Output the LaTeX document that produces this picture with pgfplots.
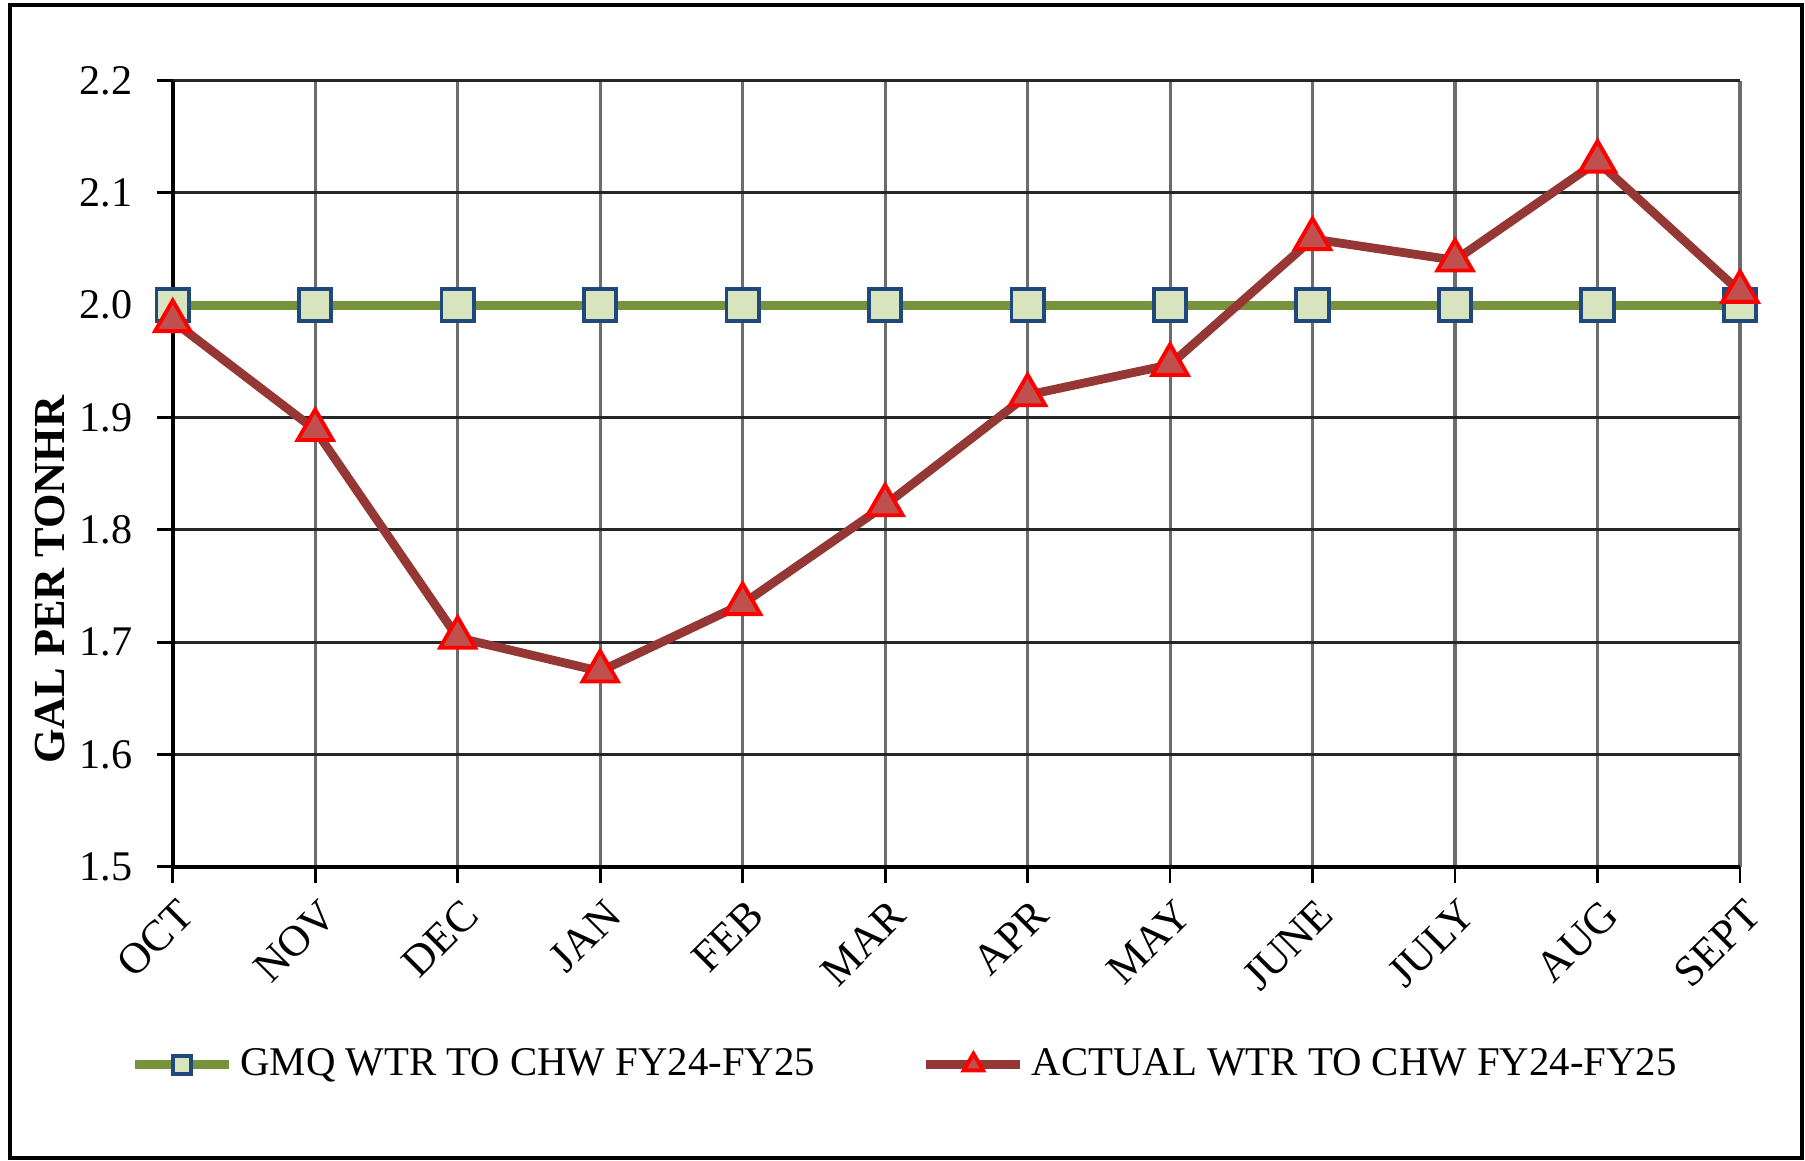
\documentclass[border=0pt]{standalone}
\usepackage{fontspec}
\setmainfont{Liberation Serif}
\usepackage{pgfplots}
\pgfplotsset{compat=1.18}

\definecolor{gmqline}{RGB}{119,147,60}
\definecolor{gmqfill}{RGB}{215,228,189}
\definecolor{gmqedge}{RGB}{31,73,125}
\definecolor{actline}{RGB}{149,55,53}
\definecolor{actfill}{RGB}{192,80,77}
\definecolor{actedge}{RGB}{255,0,0}

\begin{document}
\begin{tikzpicture}
\begin{axis}[
name=ax,
scale only axis,
width=15.67cm, height=7.86cm,
xmin=0, xmax=11,
ymin=1.5, ymax=2.2,
xtick={0,...,11},
xticklabels={OCT,NOV,DEC,JAN,FEB,MAR,APR,MAY,JUNE,JULY,AUG,SEPT},
ytick={1.5,1.6,1.7,1.8,1.9,2.0,2.1,2.2},
yticklabel style={xshift=-0.12cm, /pgf/number format/.cd,fixed,fixed zerofill,precision=1},
/pgf/number format/assume math mode=true,
tick label style={font=\fontsize{12}{14}\selectfont},
xticklabel style={font=\fontsize{12.4}{14}\selectfont, rotate=45, anchor=north east, xshift=0.04cm},
axis lines*=left,
axis line style={black, line width=1.1pt},
tick align=outside,
major tick length=0.16cm,
tick style={black, line width=0.8pt},
grid=major,
x grid style={gray!85!black, line width=0.9pt},
y grid style={black!85, line width=0.9pt},
ylabel={\bfseries GAL PER TONHR},
ylabel style={font=\fontsize{12.6}{14}\selectfont, at={(axis description cs:-0.061,0.365)}, anchor=south},
clip=false,
legend columns=2,
legend style={at={(axis description cs:0.4686,-0.252)}, anchor=center, draw=none,
  font=\fontsize{11.6}{14}\selectfont,
  /tikz/every even column/.append style={column sep=1.0cm}},
legend image code/.code={\draw[mark repeat=2,mark phase=2,#1,every mark/.append style={scale=0.55}] plot coordinates {(0cm,0cm) (0.47cm,0cm) (0.94cm,0cm)};},
]

% goal line
\addplot[color=gmqline, line width=2.5pt, mark=square*,
  mark size=4.6pt, mark options={fill=gmqfill, draw=gmqedge, line width=1.1pt}]
  coordinates {(0,2.0) (1,2.0) (2,2.0) (3,2.0) (4,2.0) (5,2.0) (6,2.0) (7,2.0) (8,2.0) (9,2.0) (10,2.0) (11,2.0)};
\addlegendentry{GMQ WTR TO CHW FY24-FY25}

% actual
\addplot[color=actline, line width=2.5pt, mark=triangle*,
  mark size=5.8pt, mark options={fill=actfill, draw=actedge, line width=1.1pt}]
  coordinates {(0,1.986) (1,1.889) (2,1.704) (3,1.674) (4,1.734) (5,1.822) (6,1.920) (7,1.947) (8,2.059) (9,2.040) (10,2.128) (11,2.012)};
\addlegendentry{ACTUAL WTR TO CHW FY24-FY25}

\end{axis}
% chart area frame and page size
\draw[black, line width=0.9pt] ([shift={(-1.627cm,-2.913cm)}]ax.south west) rectangle ([shift={(0.62cm,0.756cm)}]ax.north east);
\path[use as bounding box] ([shift={(-1.727cm,-2.933cm)}]ax.south west) rectangle ([shift={(0.65cm,0.806cm)}]ax.north east);
\end{tikzpicture}
\end{document}
